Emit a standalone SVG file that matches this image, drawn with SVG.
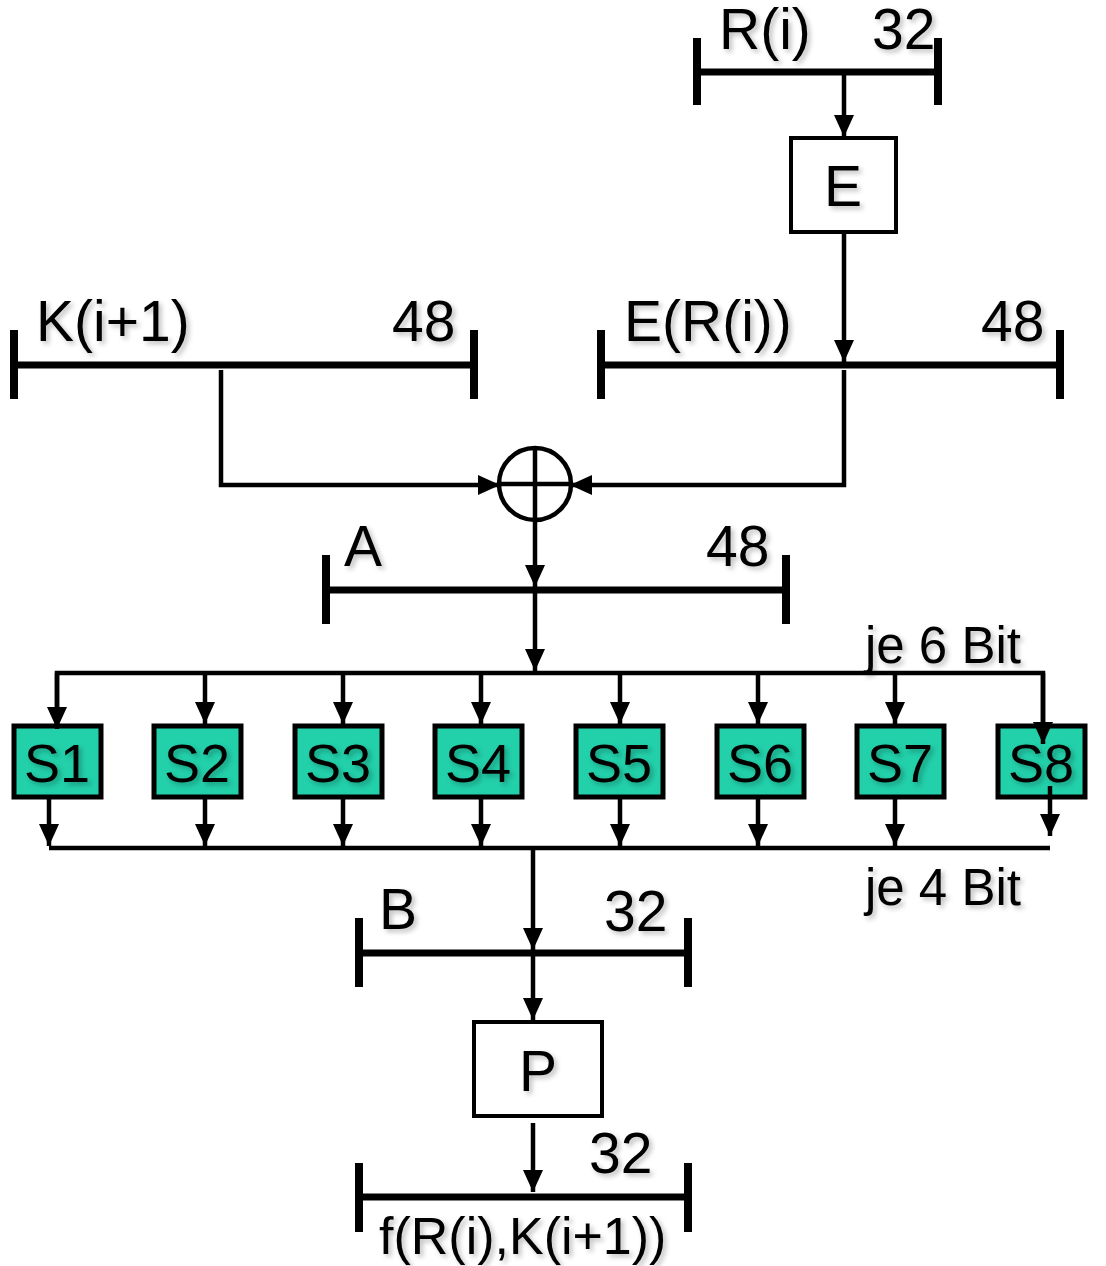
<svg xmlns="http://www.w3.org/2000/svg" width="1106" height="1266" viewBox="0 0 1106 1266">
<defs>
<marker id="ah" markerUnits="userSpaceOnUse" markerWidth="24" markerHeight="22" refX="22" refY="10" orient="auto"><path d="M0,0 L22,10 L0,20 z" fill="#000"/></marker>
<filter id="sh" x="-10%" y="-10%" width="130%" height="140%"><feGaussianBlur in="SourceAlpha" stdDeviation="2.5"/><feOffset dx="3" dy="3" result="b"/><feFlood flood-color="#000" flood-opacity="0.25"/><feComposite in2="b" operator="in"/><feMerge><feMergeNode/><feMergeNode in="SourceGraphic"/></feMerge></filter>
</defs>
<style>
text{font-family:"Liberation Sans",Arial,sans-serif;fill:#000;filter:url(#sh)}
.lbl{font-size:57px}
.sm{font-size:51px}
.sl{font-size:54px}
.fl{font-size:52px}
.bar{stroke:#000;stroke-width:7;fill:none}
.tick{stroke:#000;stroke-width:8;fill:none}
.c{stroke:#000;stroke-width:4.5;fill:none}
.ca{stroke:#000;stroke-width:4.5;fill:none;marker-end:url(#ah)}
.box{fill:#fff;stroke:#000;stroke-width:4}
.sbox{fill:#22D0AA;stroke:#000;stroke-width:5}
</style>
<rect width="1106" height="1266" fill="#fff"/>

<g id="bar-Ri">
<line class="bar" x1="697" y1="72" x2="938" y2="72"/>
<line class="tick" x1="697" y1="38" x2="697" y2="105"/>
<line class="tick" x1="938" y1="38" x2="938" y2="105"/>
<text class="lbl" x="719" y="49">R(i)</text>
<text class="lbl" x="872" y="49">32</text>
</g>
<g id="E">
<rect class="box" x="791" y="138" width="105" height="94"/>
<text class="lbl" x="843" y="206" text-anchor="middle">E</text>
</g>
<g id="bar-ERi">
<line class="bar" x1="601" y1="365" x2="1060" y2="365"/>
<line class="tick" x1="601" y1="330" x2="601" y2="399"/>
<line class="tick" x1="1060" y1="330" x2="1060" y2="399"/>
<text class="lbl" x="624" y="341">E(R(i))</text>
<text class="lbl" x="981" y="341">48</text>
</g>
<g id="bar-K">
<line class="bar" x1="14" y1="365" x2="474" y2="365"/>
<line class="tick" x1="14" y1="330" x2="14" y2="399"/>
<line class="tick" x1="474" y1="330" x2="474" y2="399"/>
<text class="lbl" x="36" y="341">K(i+1)</text>
<text class="lbl" x="392" y="341">48</text>
</g>
<g id="xor">
<circle cx="535" cy="484" r="36" fill="none" stroke="#000" stroke-width="4.5"/>
<line class="c" x1="535" y1="448" x2="535" y2="520"/>
<line class="c" x1="499" y1="484" x2="571" y2="484"/>
</g>
<g id="bar-A">
<line class="bar" x1="326" y1="590" x2="786" y2="590"/>
<line class="tick" x1="326" y1="555" x2="326" y2="624"/>
<line class="tick" x1="786" y1="555" x2="786" y2="624"/>
<text class="lbl" x="344" y="566">A</text>
<text class="lbl" x="706" y="566">48</text>
</g>
<g id="label-6bit"><text class="sm" x="865" y="663">je 6 Bit</text></g>
<g id="S1"><rect class="sbox" x="14" y="726" width="87" height="71"/><text class="sl" x="57" y="782" text-anchor="middle">S1</text></g>
<g id="S2"><rect class="sbox" x="154" y="726" width="87" height="71"/><text class="sl" x="197" y="782" text-anchor="middle">S2</text></g>
<g id="S3"><rect class="sbox" x="295" y="726" width="87" height="71"/><text class="sl" x="338" y="782" text-anchor="middle">S3</text></g>
<g id="S4"><rect class="sbox" x="435" y="726" width="87" height="71"/><text class="sl" x="478" y="782" text-anchor="middle">S4</text></g>
<g id="S5"><rect class="sbox" x="576" y="726" width="87" height="71"/><text class="sl" x="619" y="782" text-anchor="middle">S5</text></g>
<g id="S6"><rect class="sbox" x="717" y="726" width="87" height="71"/><text class="sl" x="760" y="782" text-anchor="middle">S6</text></g>
<g id="S7"><rect class="sbox" x="857" y="726" width="87" height="71"/><text class="sl" x="900" y="782" text-anchor="middle">S7</text></g>
<g id="S8"><rect class="sbox" x="998" y="726" width="87" height="71"/><text class="sl" x="1041" y="782" text-anchor="middle">S8</text></g>
<g id="label-4bit"><text class="sm" x="865" y="905">je 4 Bit</text></g>
<g id="bar-B">
<line class="bar" x1="359" y1="953" x2="688" y2="953"/>
<line class="tick" x1="359" y1="918" x2="359" y2="987"/>
<line class="tick" x1="688" y1="918" x2="688" y2="987"/>
<text class="lbl" x="379" y="929">B</text>
<text class="lbl" x="604" y="931">32</text>
</g>
<g id="P">
<rect class="box" x="474" y="1022" width="128" height="94"/>
<text class="lbl" x="538" y="1091" text-anchor="middle">P</text>
</g>
<g id="bar-f">
<line class="bar" x1="359" y1="1197" x2="688" y2="1197"/>
<line class="tick" x1="359" y1="1163" x2="359" y2="1232"/>
<line class="tick" x1="688" y1="1163" x2="688" y2="1232"/>
<text class="lbl" x="589" y="1173">32</text>
<text class="fl" x="379" y="1254">f(R(i),K(i+1))</text>
</g>

<g id="connectors">
<line class="ca" x1="844" y1="72" x2="844" y2="137"/>
<line class="ca" x1="844" y1="232" x2="844" y2="362"/>
<polyline class="ca" points="221,370 221,485 500,485"/>
<polyline class="ca" points="844,370 844,485 570,485"/>
<line class="ca" x1="535" y1="522" x2="535" y2="587"/>
<line class="ca" x1="535" y1="593" x2="535" y2="671"/>
<polyline class="c" points="57,727 57,673 1043,673 1043,727"/>
<line class="ca" x1="57" y1="673" x2="57" y2="729"/>
<line class="ca" x1="205" y1="673" x2="205" y2="724"/>
<line class="ca" x1="343" y1="673" x2="343" y2="724"/>
<line class="ca" x1="481" y1="673" x2="481" y2="724"/>
<line class="ca" x1="620" y1="673" x2="620" y2="724"/>
<line class="ca" x1="758" y1="673" x2="758" y2="724"/>
<line class="ca" x1="895" y1="673" x2="895" y2="724"/>
<line class="ca" x1="1043" y1="673" x2="1043" y2="744"/>
<line class="ca" x1="49" y1="797" x2="49" y2="846"/>
<line class="ca" x1="205" y1="797" x2="205" y2="846"/>
<line class="ca" x1="343" y1="797" x2="343" y2="846"/>
<line class="ca" x1="481" y1="797" x2="481" y2="846"/>
<line class="ca" x1="620" y1="797" x2="620" y2="846"/>
<line class="ca" x1="758" y1="797" x2="758" y2="846"/>
<line class="ca" x1="895" y1="797" x2="895" y2="846"/>
<line class="ca" x1="1050" y1="786" x2="1050" y2="836"/>
<line class="c" x1="49" y1="848" x2="1050" y2="848"/>
<line class="ca" x1="533" y1="848" x2="533" y2="950"/>
<line class="ca" x1="533" y1="956" x2="533" y2="1020"/>
<line class="ca" x1="533" y1="1123" x2="533" y2="1192"/>
</g>
</svg>
